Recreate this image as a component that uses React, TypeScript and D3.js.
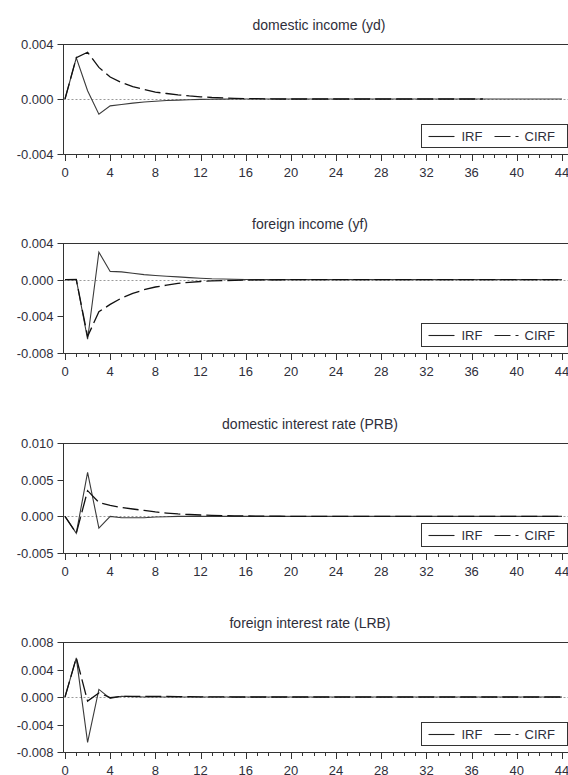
import React from "react";
import * as d3 from "d3";

// Periods 0..44 on the horizontal axis
const periods: number[] = d3.range(0, 45);
const xTickLabels: number[] = [0, 4, 8, 12, 16, 20, 24, 28, 32, 36, 40, 44];

// Impulse responses (IRF) and cumulative responses (CIRF), one pair per panel
const ydIRF: number[] = [
  0, 0.003, 0.0006, -0.0011, -0.0005, -0.0004, -0.0003, -0.00022, -0.00016, -0.00011,
  -0.00008, -0.00005, -0.00003, -0.00002, -0.00001, 0, 0, 0, 0, 0,
  0, 0, 0, 0, 0, 0, 0, 0, 0, 0,
  0, 0, 0, 0, 0, 0, 0, 0, 0, 0,
  0, 0, 0, 0, 0,
];
const ydCIRF: number[] = [
  0, 0.003, 0.0034, 0.0023, 0.0016, 0.0012, 0.0009, 0.0007, 0.0005, 0.0004,
  0.0003, 0.00022, 0.00016, 0.00011, 0.00008, 0.00005, 0.00003, 0.00002, 0.00001, 0,
  0, 0, 0, 0, 0, 0, 0, 0, 0, 0,
  0, 0, 0, 0, 0, 0, 0, 0,
];

const yfIRF: number[] = [
  0, 0.00003, -0.0065, 0.003, 0.0009, 0.00085, 0.0007, 0.00055, 0.00045, 0.00037,
  0.0003, 0.00022, 0.00016, 0.0001, 0.00007, 0.00004, 0.00002, 0.00001, 0, 0,
  0, 0, 0, 0, 0, 0, 0, 0, 0, 0,
  0, 0, 0, 0, 0, 0, 0, 0, 0, 0,
  0, 0, 0, 0, 0,
];
const yfCIRF: number[] = [
  0, 0, -0.0062, -0.0035, -0.0027, -0.002, -0.0015, -0.0011, -0.0008, -0.0006,
  -0.0004, -0.0003, -0.0002, -0.00014, -0.0001, -0.00007, -0.00005, -0.00003, -0.00002, -0.00001,
  0, 0, 0, 0, 0, 0, 0, 0, 0, 0,
  0, 0, 0, 0, 0, 0, 0, 0, 0, 0,
  0, 0, 0, 0, 0,
];

const prbIRF: number[] = [
  0, -0.0023, 0.006, -0.0016, 0, -0.0002, -0.0002, -0.0002, -0.0001, -0.00005,
  0, 0, 0, 0, 0, 0, 0, 0, 0, 0,
  0, 0, 0, 0, 0, 0, 0, 0, 0, 0,
  0, 0, 0, 0, 0, 0, 0, 0, 0, 0,
  0, 0, 0, 0, 0,
];
const prbCIRF: number[] = [
  0, -0.0023, 0.0035, 0.0019, 0.0015, 0.0012, 0.001, 0.0008, 0.0006, 0.00045,
  0.00033, 0.00025, 0.00018, 0.00013, 0.0001, 0.00007, 0.00005, 0.00003, 0.00002, 0.00001,
  0, 0, 0, 0, 0, 0, 0, 0, 0, 0,
  0, 0, 0, 0, 0, 0, 0, 0, 0, 0,
  0, 0, 0, 0, 0,
];

const lrbIRF: number[] = [
  0, 0.0057, -0.0066, 0.0011, -0.0002, 0.0001, 0.00005, 0, 0, 0,
  0, 0, 0, 0, 0, 0, 0, 0, 0, 0,
  0, 0, 0, 0, 0, 0, 0, 0, 0, 0,
  0, 0, 0, 0, 0, 0, 0, 0, 0, 0,
  0, 0, 0, 0, 0,
];
const lrbCIRF: number[] = [
  0, 0.0057, -0.0006, 0.0006, -0.0001, 0.0001, 0.0001, 0.0001, 0.0001, 0.00008,
  0.00006, 0.00004, 0.00003, 0.00002, 0.00001, 0, 0, 0, 0, 0,
  0, 0, 0, 0, 0, 0, 0, 0, 0, 0,
  0, 0, 0, 0, 0, 0, 0, 0, 0, 0,
  0, 0, 0, 0, 0,
];

const titles: string[] = [
  "domestic income (yd)",
  "foreign income (yf)",
  "domestic interest rate (PRB)",
  "foreign interest rate (LRB)",
];
const yDomains: [number, number][] = [
  [-0.004, 0.004],
  [-0.008, 0.004],
  [-0.005, 0.01],
  [-0.008, 0.008],
];
const yTickValues: number[][] = [
  [-0.004, 0, 0.004],
  [-0.008, -0.004, 0, 0.004],
  [-0.005, 0, 0.005, 0.01],
  [-0.008, -0.004, 0, 0.004, 0.008],
];
const irfSeries: number[][] = [ydIRF, yfIRF, prbIRF, lrbIRF];
const cirfSeries: number[][] = [ydCIRF, yfCIRF, prbCIRF, lrbCIRF];
const legendLabels: string[] = ["IRF", "CIRF"];

// Layout
const W = 568;
const H = 775;
const plotLeft = 63.5;
const plotRight = 580;
const plotHeight = 110;
const panelTops = [44, 243, 443, 642];
const titleCenters = [319, 310, 310, 310];
const FONT = "'Liberation Sans', Arial, sans-serif";
const TEXT = "#2e2e3a";
const AXIS = "#333";
const CIRF_DASH = "16,5";

const locale = d3.formatLocale({
  decimal: ".",
  thousands: ",",
  grouping: [3],
  currency: ["", ""],
  minus: "-",
});
const fmt = locale.format(".3f");

const x = d3.scaleLinear().domain([0, 44]).range([65, 562]);

function Panel({ idx }: { idx: number }) {
  const top = panelTops[idx];
  const bottom = top + plotHeight;
  const y = d3.scaleLinear().domain(yDomains[idx]).range([bottom, top]);
  const line = d3
    .line<number>()
    .x((_, i) => x(periods[i]))
    .y((d) => y(d));
  const minorTicks = d3.range(0, 46);
  const legY = bottom - 18;
  const legX = 421.5;
  return (
    <g>
      <text
        x={titleCenters[idx]}
        y={top - 14}
        textAnchor="middle"
        fontFamily={FONT}
        fontSize={14}
        fill={TEXT}
      >
        {titles[idx]}
      </text>
      {/* zero reference */}
      <line
        x1={plotLeft}
        x2={plotRight}
        y1={Math.round(y(0)) + 0.5}
        y2={Math.round(y(0)) + 0.5}
        stroke="#9a9a9a"
        strokeWidth={1}
        strokeDasharray="2,2"
      />
      {/* series */}
      <path d={line(irfSeries[idx]) ?? ""} fill="none" stroke="#3a3a3a" strokeWidth={1.1} />
      <path
        d={line(cirfSeries[idx]) ?? ""}
        fill="none"
        stroke="#111"
        strokeWidth={1.3}
        strokeDasharray={CIRF_DASH}
      />
      {/* frame */}
      <line x1={plotLeft} x2={plotRight} y1={top + 0.5} y2={top + 0.5} stroke={AXIS} strokeWidth={1} />
      <line x1={plotLeft} x2={plotLeft} y1={top} y2={bottom + 0.5} stroke={AXIS} strokeWidth={1} />
      <line x1={plotLeft} x2={plotRight} y1={bottom + 0.5} y2={bottom + 0.5} stroke={AXIS} strokeWidth={1} />
      {/* y ticks */}
      {yTickValues[idx].map((v) => {
        const yy = Math.round(y(v)) + 0.5;
        return (
          <g key={v}>
            <line x1={plotLeft - 6} x2={plotLeft} y1={yy} y2={yy} stroke={AXIS} strokeWidth={1} />
            <text
              x={plotLeft - 10}
              y={yy + 4.5}
              textAnchor="end"
              fontFamily={FONT}
              fontSize={13}
              fill={TEXT}
            >
              {fmt(v)}
            </text>
          </g>
        );
      })}
      {/* x ticks */}
      {minorTicks.map((t) => {
        const xx = Math.round(x(t)) + 0.5;
        const major = t % 4 === 0;
        return (
          <line
            key={t}
            x1={xx}
            x2={xx}
            y1={bottom}
            y2={bottom + (major ? 7 : 4)}
            stroke={AXIS}
            strokeWidth={1}
          />
        );
      })}
      {xTickLabels.map((t) => (
        <text
          key={t}
          x={x(t)}
          y={bottom + 23}
          textAnchor="middle"
          fontFamily={FONT}
          fontSize={13}
          fill={TEXT}
        >
          {t}
        </text>
      ))}
      {/* legend */}
      <rect
        x={legX}
        y={legY - 11.5}
        width={146}
        height={23}
        fill="#fff"
        stroke={AXIS}
        strokeWidth={1}
      />
      <line x1={legX + 7} x2={legX + 33} y1={legY + 0.5} y2={legY + 0.5} stroke="#222" strokeWidth={1.1} />
      <text x={legX + 40} y={legY + 5} fontFamily={FONT} fontSize={13} fill={TEXT}>
        {legendLabels[0]}
      </text>
      <line
        x1={legX + 73}
        x2={legX + 97}
        y1={legY + 0.5}
        y2={legY + 0.5}
        stroke="#222"
        strokeWidth={1.1}
        strokeDasharray={CIRF_DASH}
      />
      <text x={legX + 103} y={legY + 5} fontFamily={FONT} fontSize={13} fill={TEXT}>
        {legendLabels[1]}
      </text>
    </g>
  );
}

export default function App() {
  return (
    <svg
      width={W}
      height={H}
      viewBox={`0 0 ${W} ${H}`}
      style={{ position: "absolute", left: 0, top: 0, background: "#fff", display: "block" }}
    >
      <rect width={W} height={H} fill="#fff" />
      {titles.map((_, i) => (
        <Panel key={i} idx={i} />
      ))}
    </svg>
  );
}
